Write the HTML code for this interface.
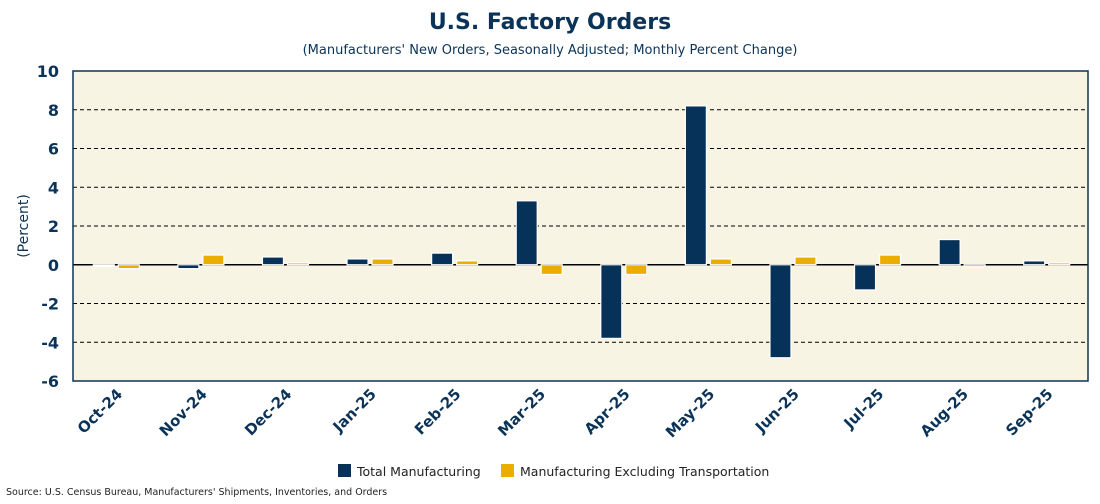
<!DOCTYPE html>
<html><head><meta charset="utf-8"><style>
body{margin:0;background:#fff;width:1100px;height:500px;overflow:hidden;font-family:"DejaVu Sans","Liberation Sans",sans-serif}
svg text{font-family:"DejaVu Sans","Liberation Sans",sans-serif}
</style></head><body>
<svg width="1100" height="500">
<text x="550" y="29" text-anchor="middle" font-size="22" font-weight="bold" fill="#0b3358">U.S. Factory Orders</text>
<text x="550" y="54" text-anchor="middle" font-size="13" fill="#0b3358">(Manufacturers' New Orders, Seasonally Adjusted; Monthly Percent Change)</text>
<rect x="73" y="71" width="1015" height="310" fill="#f8f4e4"/>
<g id="grid"></g><g id="bars"></g><g id="axes"></g>
<text transform="translate(28,226) rotate(-90)" text-anchor="middle" font-size="14" fill="#0b3358">(Percent)</text>
<g>
<rect x="338" y="464" width="13" height="13" fill="#06325a"/>
<text x="357" y="476" font-size="12.5" fill="#222">Total Manufacturing</text>
<rect x="501" y="464" width="13" height="13" fill="#ebad00"/>
<text x="520" y="476" font-size="12.5" fill="#222">Manufacturing Excluding Transportation</text>
</g>
<text x="6" y="495" font-size="9.5" fill="#222">Source: U.S. Census Bureau, Manufacturers' Shipments, Inventories, and Orders</text>
</svg>
<script>
const categories=["Oct-24","Nov-24","Dec-24","Jan-25","Feb-25","Mar-25","Apr-25","May-25","Jun-25","Jul-25","Aug-25","Sep-25"];
const totalValues=[0.0,-0.2,0.4,0.3,0.6,3.3,-3.8,8.2,-4.8,-1.3,1.3,0.2];
const exclValues=[-0.2,0.5,0.1,0.3,0.2,-0.5,-0.5,0.3,0.4,0.5,-0.1,0.1];
const yTicks=[10,8,6,4,2,0,-2,-4,-6];
const NS="http://www.w3.org/2000/svg";
const L=73,R=1088,T=71,B=381,ymax=10,ymin=-6;
const y=v=>T+(ymax-v)/(ymax-ymin)*(B-T);
const bw=(R-L)/categories.length;
const xc=i=>L+bw*(i+0.5);
function mk(tag,attrs,parent){const e=document.createElementNS(NS,tag);for(const k in attrs)e.setAttribute(k,attrs[k]);parent.appendChild(e);return e;}
const grid=document.getElementById('grid'),bars=document.getElementById('bars'),axes=document.getElementById('axes');
yTicks.forEach(t=>{
  if(t!==ymax&&t!==ymin&&t!==0){const g=mk('line',{x1:L,x2:R,y1:y(t),y2:y(t),stroke:'#000','stroke-dasharray':'4,3','stroke-width':1},grid);
  
  }
  const tx=mk('text',{x:59,y:y(t)+6,'text-anchor':'end','font-size':16,'font-weight':'bold',fill:'#0b3358'},axes);
  tx.textContent=t;
  
  
});
const z=mk('line',{x1:L,x2:R,y1:y(0),y2:y(0),stroke:'#000','stroke-width':1.5},grid);


categories.forEach((c,i)=>{
  [[totalValues[i],'#06325a',-22,'bar-total'],[exclValues[i],'#ebad00',3,'bar-excl']].forEach(([v,col,off,nm])=>{
    const top=Math.min(y(v),y(0)),h=Math.abs(y(v)-y(0));
    const r=mk('rect',{x:xc(i)+off,y:top,width:21,height:Math.max(h,1.5),fill:v===0?'#fff':col,stroke:'#fff','stroke-width':1.2},bars);
    
    
  });
  const lx=xc(i)+8,ly=B+14;
  const t=mk('text',{x:lx,y:ly,'text-anchor':'end','font-size':15,'font-weight':'bold',fill:'#0b3358',transform:`rotate(-45 ${lx} ${ly})`},axes);
  t.textContent=c;
  
  
});
const f=mk('rect',{x:L,y:T,width:R-L,height:B-T,fill:'none',stroke:'#0b3358','stroke-width':1.5},axes);


</script>
</body></html>
